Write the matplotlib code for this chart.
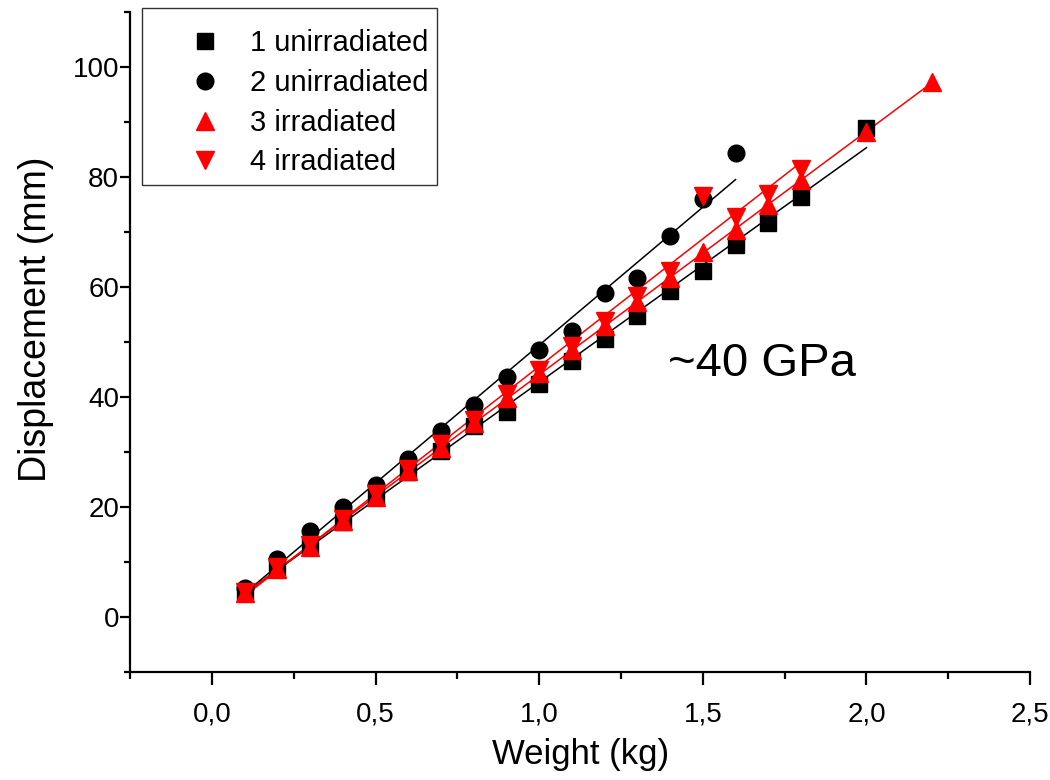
import numpy as np
import matplotlib
matplotlib.use("Agg")
import matplotlib.pyplot as plt
from matplotlib.ticker import MultipleLocator, FuncFormatter

plt.rcParams["font.family"] = ["Liberation Sans", "DejaVu Sans"]

# sample 1 (unirradiated, squares)
w1 = [0.1, 0.2, 0.3, 0.4, 0.5, 0.6, 0.7, 0.8, 0.9, 1.0, 1.1, 1.2, 1.3, 1.4, 1.5, 1.6, 1.7, 1.8, 2.0]
d1 = [4.5, 8.8, 13.0, 17.3, 21.8, 26.3, 30.2, 34.8, 37.3, 42.4, 46.5, 50.5, 54.8, 59.3, 63.0, 67.7, 71.7, 76.3, 89.0]
# sample 2 (unirradiated, circles)
w2 = [0.1, 0.2, 0.3, 0.4, 0.5, 0.6, 0.7, 0.8, 0.9, 1.0, 1.1, 1.2, 1.3, 1.4, 1.5, 1.6]
d2 = [5.2, 10.5, 15.7, 20.0, 24.0, 28.8, 33.8, 38.5, 43.6, 48.5, 52.0, 59.0, 61.6, 69.2, 76.0, 84.3]
# sample 3 (irradiated, up triangles)
w3 = [0.1, 0.2, 0.3, 0.4, 0.5, 0.6, 0.7, 0.8, 0.9, 1.0, 1.1, 1.2, 1.3, 1.4, 1.5, 1.6, 1.7, 1.8, 2.0, 2.2]
d3 = [4.3, 8.8, 12.8, 17.5, 21.8, 26.5, 30.8, 35.3, 39.8, 44.3, 48.5, 53.0, 57.3, 61.6, 66.3, 70.3, 75.0, 79.5, 88.2, 97.3]
# sample 4 (irradiated, down triangles)
w4 = [0.1, 0.2, 0.3, 0.4, 0.5, 0.6, 0.7, 0.8, 0.9, 1.0, 1.1, 1.2, 1.3, 1.4, 1.5, 1.6, 1.7, 1.8]
d4 = [4.5, 9.0, 13.0, 17.8, 22.3, 27.0, 31.5, 35.8, 40.5, 45.0, 49.3, 53.8, 58.3, 63.0, 76.5, 72.8, 77.0, 81.5]

series = [
    (w1, d1, "s", "black", "1 unirradiated"),
    (w2, d2, "o", "black", "2 unirradiated"),
    (w3, d3, "^", "red", "3 irradiated"),
    (w4, d4, "v", "red", "4 irradiated"),
]
sizes = {"s": 11.5, "o": 12, "^": 13, "v": 13}

fig = plt.figure(figsize=(10.5, 7.8), dpi=100)
ax = fig.add_axes([0.124, 0.1385, 0.857, 0.846])

# linear fits underneath, markers on top
for w, d, m, c, lab in series:
    k, b = np.polyfit(w, d, 1)
    xs = np.array([min(w), max(w)])
    ax.plot(xs, k * xs + b, color=c, lw=1.1, zorder=2)

for i, (w, d, m, c, lab) in enumerate(series):
    ax.plot(w, d, ls="none", marker=m, ms=sizes[m], color=c, mec=c, label=lab, zorder=3 + i)

ax.set_xlim(-0.25, 2.5)
ax.set_ylim(-10, 110)
ax.xaxis.set_major_locator(MultipleLocator(0.5))
ax.xaxis.set_minor_locator(MultipleLocator(0.25))
ax.yaxis.set_major_locator(MultipleLocator(20))
ax.yaxis.set_minor_locator(MultipleLocator(10))
ax.xaxis.set_major_formatter(FuncFormatter(lambda v, p: f"{v:.1f}".replace(".", ",")))
ax.yaxis.set_major_formatter(FuncFormatter(lambda v, p: f"{v:.0f}"))

for s in ["top", "right"]:
    ax.spines[s].set_visible(False)
for s in ["left", "bottom"]:
    ax.spines[s].set_linewidth(1.6)

ax.tick_params(which="major", direction="out", length=9, width=1.6)
ax.tick_params(which="minor", direction="out", length=5, width=1.6)
ax.tick_params(axis="y", which="major", length=7, labelsize=20, pad=1)
ax.tick_params(axis="y", which="minor", length=4)
ax.tick_params(axis="x", which="major", labelsize=20, pad=12)

ax.set_xlabel("Weight (kg)", fontsize=25, labelpad=8)
ax.set_ylabel("Displacement (mm)", fontsize=27)
ax.yaxis.set_label_coords(-0.085, 0.535)

ax.text(1.395, 46, "~40 GPa", fontsize=34, ha="left", va="center")

# Origin-style legend: extra room on top, tight on the right
leg = ax.legend(loc="upper left", bbox_to_anchor=(142 / 1050, 1 - 8 / 780),
                bbox_transform=fig.transFigure, borderaxespad=0, fontsize=21,
                title=" ", title_fontsize=1,
                frameon=True, fancybox=False, edgecolor="black", handletextpad=-0.3,
                labelspacing=0.4, borderpad=0.3, handlelength=3.7)
leg.get_frame().set_linewidth(1.0)

fig.savefig("out.png", dpi=100)
